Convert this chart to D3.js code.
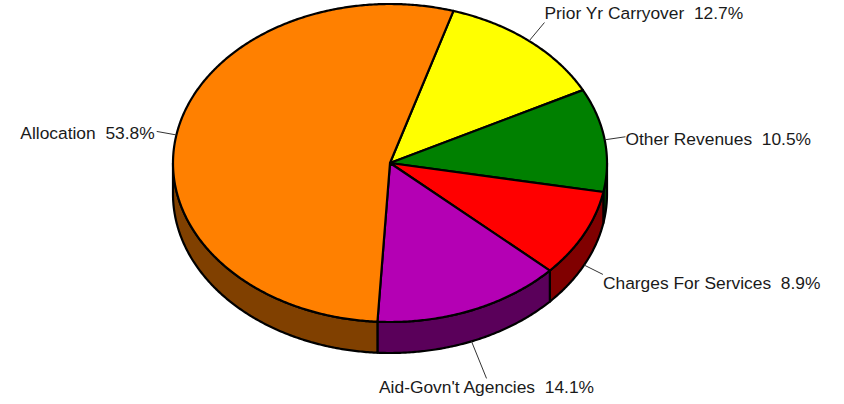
<!DOCTYPE html>
<html>
<head>
<meta charset="utf-8">
<script src="https://cdn.jsdelivr.net/npm/d3@7"></script>
<style>
  html, body { margin: 0; padding: 0; background: #fff; }
  svg { display: block; }
</style>
</head>
<body>
<svg id="chart" width="844" height="404"></svg>
<script>
// Revenue sources, clockwise from the first slice
const categories = ["Prior Yr Carryover", "Other Revenues", "Charges For Services", "Aid-Govn't Agencies", "Allocation"];
const values = [12.7, 10.5, 8.9, 14.1, 53.8];
const colors = ["#FFFF00", "#008000", "#FF0000", "#B400B4", "#FF8000"];
const leaderLengths = [24, 21, 21, 40, 20];

const svg = d3.select("#chart");

// Tilted pie geometry
const cx = 390, cy = 163, rx = 217, ry = 159, depth = 31;
const start = 17 * Math.PI / 180;

const pie = d3.pie().sort(null).value(d => d)
  .startAngle(start).endAngle(start + 2 * Math.PI);
const arcs = pie(values);

const pt = (a, dy = 0) => [cx + rx * Math.sin(a), cy - ry * Math.cos(a) + dy];
const line = d3.line();

function sample(a0, a1, dy = 0) {
  const n = Math.max(2, Math.ceil(Math.abs(a1 - a0) / (Math.PI / 360)));
  return d3.range(n + 1).map(i => pt(a0 + (a1 - a0) * i / n, dy));
}

const shade = c => { const r = d3.rgb(c); return d3.rgb(r.r * 0.5, r.g * 0.5, r.b * 0.5).formatHex(); };

// Front wall (visible where the rim faces the viewer)
const windows = [[Math.PI / 2, 3 * Math.PI / 2], [Math.PI / 2 + 2 * Math.PI, 3 * Math.PI / 2 + 2 * Math.PI]];
const sides = svg.append("g");
arcs.forEach((d, i) => {
  windows.forEach(([w0, w1]) => {
    const s = Math.max(d.startAngle, w0), e = Math.min(d.endAngle, w1);
    if (e > s) {
      const pts = sample(s, e).concat(sample(e, s, depth));
      sides.append("path")
        .attr("d", line(pts) + "Z")
        .attr("fill", shade(colors[i]))
        .attr("stroke", "#000")
        .attr("stroke-width", 2.2)
        .attr("stroke-linejoin", "round");
    }
  });
});

// Top faces
const tops = svg.append("g");
arcs.forEach((d, i) => {
  const pts = [[cx, cy]].concat(sample(d.startAngle, d.endAngle));
  tops.append("path")
    .attr("d", line(pts) + "Z")
    .attr("fill", colors[i])
    .attr("stroke", "#000")
    .attr("stroke-width", 2.2)
    .attr("stroke-linejoin", "round");
});

// Leader lines and labels
const labels = svg.append("g")
  .attr("font-family", "'Liberation Sans', Arial, sans-serif")
  .attr("font-size", 17.4)
  .attr("fill", "#1a1a1a");

arcs.forEach((d, i) => {
  const m = (d.startAngle + d.endAngle) / 2;
  const sx = Math.sin(m), cyy = Math.cos(m);
  const p0 = pt(m, cyy < 0 ? depth : 0);
  const L = leaderLengths[i];
  const p1 = [p0[0] + sx * L, p0[1] - cyy * L];

  labels.append("line")
    .attr("x1", p0[0]).attr("y1", p0[1])
    .attr("x2", p1[0]).attr("y2", p1[1])
    .attr("stroke", "#333")
    .attr("stroke-width", 1);

  const anchor = sx > 0.5 ? "start" : (sx < -0.5 ? "end" : "middle");
  const tx = p1[0] + (anchor === "start" ? 0 : anchor === "end" ? -2 : 0);
  const ty = cyy > 0.3 ? p1[1] - 4 : (cyy < -0.3 ? p1[1] + 15 : p1[1] + 8);

  labels.append("text")
    .attr("x", tx).attr("y", ty)
    .attr("text-anchor", anchor)
    .style("white-space", "pre")
    .text(categories[i] + "  " + values[i].toFixed(1) + "%");
});
</script>
</body>
</html>
